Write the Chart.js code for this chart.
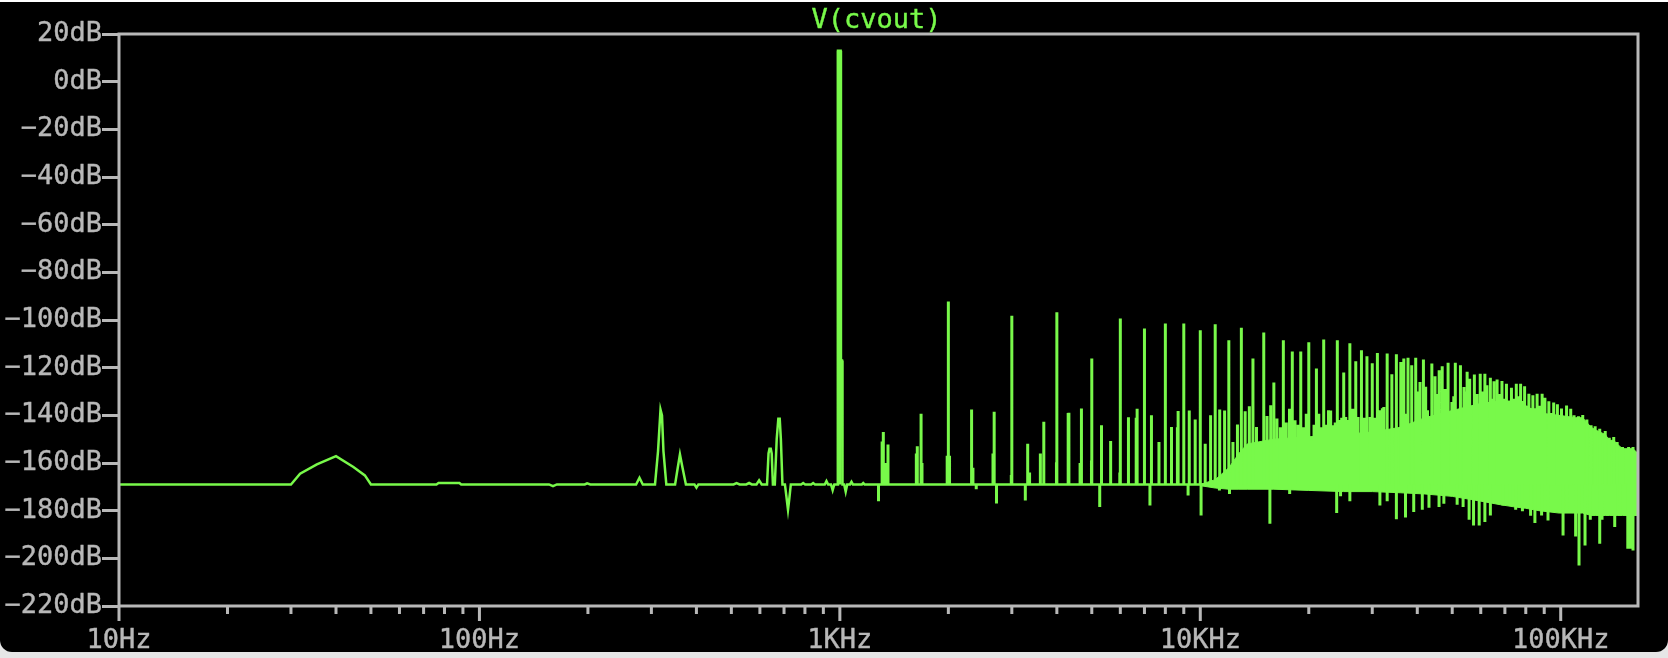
<!DOCTYPE html>
<html>
<head>
<meta charset="utf-8">
<title>V(cvout) FFT</title>
<script src="https://cdn.jsdelivr.net/npm/chart.js@4.4.1/dist/chart.umd.min.js"></script>
<style>
  html, body { margin: 0; padding: 0; background: #e6e6e6; }
  #topline { position: absolute; left: 0; top: 0; width: 1668px; height: 2px; background: #fff; }
  #screen { position: absolute; left: 0; top: 2px; width: 1668px; height: 650px; background: #000; border-radius: 0 0 12px 12px; }
  #wrap { position: absolute; left: 0; top: 0; width: 1668px; height: 658px; }
</style>
</head>
<body>
<div id="topline"></div>
<div id="screen"></div>
<div id="wrap"><canvas id="fft"></canvas></div>
<script>
const GREEN = "#78f94a";
const GRAY = "#b8b8b8";
const FONT = "DejaVu Sans Mono";
const TITLE = "V(cvout)";

// noise floor of the spectrum (Hz / dB)
const floorLevel = -169;
const floorFreq = [
  10, 30, 31.8, 35.4, 40, 44.7, 48.1, 50,
  76, 77, 88, 89, 156, 160, 164, 196, 199, 203,
  272, 278, 284, 307, 313, 318, 321, 324, 330,
  349, 355, 360, 366, 374, 395, 400, 405,
  507, 517, 527, 550, 560, 570, 587, 597, 607,
  628, 634, 638, 643, 647, 652,
  660, 668, 675, 681, 686, 693,
  704, 712, 718, 724, 731,
  781, 791, 801, 833, 843, 853, 908, 918, 928, 945, 955, 965,
  984, 988, 1005, 1007, 1014, 1017,
  1028, 1038, 1048, 1067, 1077, 1087, 1151, 1161, 1171, 163840
];
const floorDb = [
  -169, -169, -164.5, -160.6, -157.1, -161.7, -165.2, -169,
  -169, -168.4, -168.4, -169, -169, -169.7, -169, -169, -168.5, -169,
  -169, -166.2, -169, -169, -155, -137.6, -140, -155, -169,
  -169, -162, -156.4, -162, -169, -169, -170.3, -169,
  -169, -168.4, -169, -169, -168.4, -169, -169, -167.3, -169,
  -169, -156, -154, -154, -156, -169,
  -169, -150, -141.4, -141.4, -150, -169,
  -169, -175, -179.6, -175, -169,
  -169, -168.4, -169, -169, -168.4, -169, -169, -167.6, -169, -169, -171.4, -169,
  -169, 13, 13, -117, -117, -169,
  -169, -172, -169, -169, -167.9, -169, -169, -168.4, -169, -169
];

// harmonic / intermodulation spikes rising from the floor
const peakFreq = [
  990, 994, 998, 1002,
  1310, 1320, 1340, 1360, 1630, 1640, 1680, 1690, 1985, 2000, 2015, 2320, 2340, 2660, 2680, 2990, 3000,
  3320, 3360, 3600, 3680, 3990, 4000, 4300, 4320, 4640, 4680, 4990, 5000, 5320, 5640, 5980, 6000,
  6320, 6640, 6680, 7000, 7320, 7680, 8000, 8320, 8640, 8680, 9000, 9320, 9680, 10000,
  10320, 10680, 11000, 11320, 11680, 12000, 12320, 12680, 13000, 13320, 13680, 14000, 14320, 15000, 15320, 15680,
  16000, 16320, 16680, 17000, 17320, 17680, 18000, 18320, 18680, 19000, 19320, 19680, 20000, 20320, 20680,
  21000, 21320, 21680, 22000, 22320, 22680, 23000, 23320, 23680, 24000, 24320, 24680, 25000, 25320, 25680,
  26000, 26500, 27000, 27400, 28000, 28500, 29000, 29600, 30000, 30500, 31000, 31500, 32000, 32300, 33000, 34000, 35000,
  36000, 36700, 37300, 37700, 38600, 39600, 40200, 40700, 41600, 42200, 42700, 43900, 44800, 45400, 46000, 46900, 47800, 48700, 49900,
  50500, 51000, 52700, 53900, 54500, 55000, 55900, 57600, 58600, 59800, 60700, 61600, 62400, 63800, 64500, 65300, 66600, 67500,
  68700, 69700, 70700, 72000, 73000, 74000, 75300, 76300, 77400, 78400, 79400, 80500, 81600, 82600, 83700, 84800, 86000, 87400,
  88800, 89600, 90400, 92700, 94000, 95600, 97900, 99000, 100500, 102000, 103800, 105000, 106600, 108900, 110000, 112000, 113500, 115100,
  118200, 121400, 124600, 128300, 132900, 136400, 140300, 143400, 148400, 154300, 158700, 162800
];
const peakDb = [
  13, 13, 13, 13,
  -151, -147, -160, -152.2, -156, -153, -139.3, -160, -157, -92.2, -157, -137.6, -162, -156, -138.5, -165, -98.2,
  -151.9, -164, -156, -142.7, -159.7, -96.8, -139, -138.9, -160, -137.1, -158.9, -116.2, -144.2, -150.8, -164, -99.4,
  -140.8, -141, -137.2, -103.6, -140, -151.2, -101.5, -144.9, -145, -138.2, -101.5, -138, -141.8, -104.3,
  -151.9, -140, -101.8, -137.5, -138, -108.5, -151.2, -143.8, -103.2, -138.3, -136.2, -116.2, -144.9, -105.2, -140.3, -135.8,
  -126.2, -141.3, -145, -108.5, -143, -137.2, -113.2, -142.1, -144, -113.2, -145, -139.3, -109.3, -150.5, -144,
  -120.3, -139.3, -145, -108.2, -144, -137.9, -138, -144.2, -143, -108.5, -142, -141, -122, -140.7, -142,
  -109.8, -137.2, -117.3, -140.7, -112.7, -141, -115.2, -140.7, -118.1, -141, -113.8, -137.9, -137, -136.5, -114.1, -122.8, -114.4,
  -117.6, -116.2, -139.3, -115.8, -119, -115.8, -130, -126, -116.6, -128, -137.9, -118.3, -123.6, -131, -121.1, -119.4, -129, -117.9, -134.4,
  -132, -117.9, -119, -128.1, -130, -121.7, -124.6, -122.9, -131, -122.5, -130, -122.5, -127.4, -124.2, -133, -125.7, -125, -131,
  -125.6, -133, -126.7, -134, -128.4, -133, -126.7, -132, -126.7, -134, -127.8, -136, -130.9, -137, -131.6, -137, -130.9, -136,
  -130.9, -138, -132.6, -134.1, -139, -134.6, -135.4, -140, -137.1, -141, -135.9, -141, -137.2, -140, -143, -140.4, -143, -139.9,
  -141.8, -144.2, -144.6, -145.6, -146.6, -149.4, -149.1, -151.2, -153.3, -153.3, -153.3, -155.4
];

// downward spikes below the floor
const dipFreq = [
  1280, 2390, 2720, 3270, 5260, 7250, 9250, 10050, 11300, 12050, 15600, 17700, 23900, 24500, 26000, 31500, 33000, 35000,
  37100, 39100, 41300, 43100, 45960, 47400, 51600, 53600, 55700, 57300, 59400, 61600, 63800, 69100, 72200, 75000, 78300,
  82500, 84800, 88500, 92200, 101500, 104100, 110000, 112400, 116800, 120800, 128300, 130200, 141200, 145700, 153500, 156000, 158700, 162800
];
const dipDb = [
  -176, -171, -177, -175.7, -178.5, -177.8, -173.6, -182, -171.5, -173, -185.5, -173, -181, -174, -176, -177.8, -176, -183.6,
  -182.9, -180.6, -179.6, -178.8, -178.5, -177.1, -177.5, -178.5, -183.8, -186.2, -186.2, -184.8, -182, -177.8, -177.1, -179.6, -180.2,
  -182.1, -185.2, -182, -184.1, -190.4, -179.9, -190.8, -203, -194.6, -183.8, -193.9, -183.8, -186.9, -181.3, -196, -196, -196.7, -182
];

// dense high-frequency mass: upper and lower edge of the solid band
const bandFreq = [10000, 11000, 12000, 12800, 13500, 16000, 20000, 25000, 30000, 36000, 42000, 50000, 60000, 68000, 75000, 80000,
  87000, 99000, 110000, 115000, 118200, 121400, 124600, 128300, 132900, 136400, 140300, 143400, 148400, 158700, 163840];
const bandHi = [-169, -167, -162, -156, -152, -150, -149, -148, -147, -145, -141, -138, -135, -134, -134, -136,
  -139, -140, -141, -141, -143, -145, -146, -147, -148, -150.5, -150.5, -152, -154, -154, -156];
const bandLo = [-169.5, -170.5, -171, -171, -171, -171, -171.5, -172, -172, -172.5, -173, -174, -176, -177.5, -178.5, -179,
  -180, -181, -181, -181, -181.5, -182, -182, -182, -182, -182, -182, -182, -182, -182, -182];

// axes
const xMajor = [10, 100, 1000, 10000, 100000];
const xMajorLabels = ["10Hz", "100Hz", "1KHz", "10KHz", "100KHz"];
const xMinorSteps = [2, 3, 4, 5, 6, 7, 8, 9];
const xMax = 163840;
const yTicks = [20, 0, -20, -40, -60, -80, -100, -120, -140, -160, -180, -200, -220];

const xMinor = [];
xMajor.forEach(d => xMinorSteps.forEach(m => { if (d * m <= xMax) xMinor.push(d * m); }));

const floorPts = floorFreq.map((f, i) => ({ x: f, y: floorDb[i] }));
const spikePts = [];
peakFreq.forEach((f, i) => spikePts.push({ x: f, y: floorLevel }, { x: f, y: peakDb[i] }, { x: f, y: null }));
dipFreq.forEach((f, i) => spikePts.push({ x: f, y: floorLevel }, { x: f, y: dipDb[i] }, { x: f, y: null }));
const bandHiPts = bandFreq.map((f, i) => ({ x: f, y: bandHi[i] }));
const bandLoPts = bandFreq.map((f, i) => ({ x: f, y: bandLo[i] }));

// plot frame, x tick marks (long majors, short minors) and the trace name
const framePlugin = {
  id: "frame",
  afterDraw(chart) {
    const { ctx, chartArea: a, scales } = chart;
    ctx.save();
    ctx.strokeStyle = GRAY;
    ctx.lineWidth = 3;
    ctx.strokeRect(a.left, a.top, a.right - a.left, a.bottom - a.top);
    ctx.beginPath();
    xMajor.concat(xMinor).forEach(v => {
      const px = scales.x.getPixelForValue(v);
      const len = xMajor.includes(v) ? 15 : 8;
      ctx.moveTo(px, a.bottom);
      ctx.lineTo(px, a.bottom + len);
    });
    ctx.stroke();
    ctx.fillStyle = GREEN;
    ctx.strokeStyle = GREEN;
    ctx.lineWidth = 0.4;
    ctx.font = "27px '" + FONT + "'";
    ctx.textAlign = "center";
    ctx.textBaseline = "alphabetic";
    const tx = (a.left + a.right) / 2 - 2;
    ctx.fillText(TITLE, tx, 28);
    ctx.strokeText(TITLE, tx, 28);
    ctx.restore();
  }
};

const spikeStyle = { borderColor: GREEN, borderWidth: 3, pointRadius: 0, fill: false, spanGaps: false };
const floorStyle = { borderColor: GREEN, borderWidth: 2.5, pointRadius: 0, fill: false };
const tickFont = { family: FONT, size: 27 };

new Chart(document.getElementById("fft"), {
  type: "line",
  data: {
    datasets: [
      Object.assign({ data: spikePts }, spikeStyle),
      Object.assign({ data: floorPts }, floorStyle),
      { data: bandHiPts, borderColor: GREEN, backgroundColor: GREEN, borderWidth: 1, pointRadius: 0, fill: "+1" },
      { data: bandLoPts, borderColor: GREEN, borderWidth: 1, pointRadius: 0, fill: false }
    ]
  },
  options: {
    responsive: true,
    maintainAspectRatio: false,
    animation: false,
    layout: { padding: { top: 34, right: 30, left: 0, bottom: 0 } },
    elements: { line: { tension: 0, borderCapStyle: "butt" } },
    plugins: {
      legend: { display: false },
      tooltip: { enabled: false },
      title: { display: false }
    },
    scales: {
      x: {
        type: "logarithmic",
        min: 10,
        max: xMax,
        afterBuildTicks: s => { s.ticks = xMajor.concat(xMinor).sort((a, b) => a - b).map(v => ({ value: v })); },
        afterFit: s => { s.height = 52; },
        ticks: {
          autoSkip: false,
          maxRotation: 0,
          color: GRAY,
          textStrokeColor: GRAY,
          textStrokeWidth: 0.4,
          padding: 4,
          font: tickFont,
          callback: v => { const i = xMajor.indexOf(v); return i >= 0 ? xMajorLabels[i] : ""; }
        },
        grid: { display: false, drawTicks: true, tickLength: 15 },
        border: { display: false }
      },
      y: {
        type: "linear",
        min: -220,
        max: 20,
        afterBuildTicks: s => { s.ticks = yTicks.map(v => ({ value: v })); },
        afterFit: s => { s.width = 119; },
        ticks: {
          color: GRAY,
          textStrokeColor: GRAY,
          textStrokeWidth: 0.4,
          padding: 0,
          font: tickFont,
          callback: v => (v < 0 ? "\u2212" + (-v) : v) + "dB"
        },
        grid: { display: true, drawOnChartArea: false, drawTicks: true, tickLength: 17, tickWidth: 3, tickColor: GRAY },
        border: { display: false }
      }
    }
  },
  plugins: [framePlugin]
});
</script>
</body>
</html>
